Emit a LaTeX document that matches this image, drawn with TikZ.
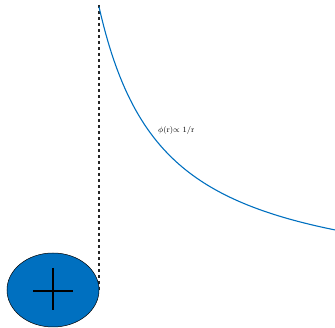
\documentclass[tikz,border=0pt]{standalone}
\usepackage{tikz}
\usetikzlibrary{arrows.meta, positioning, shapes.geometric, calc, backgrounds}
\usepackage{amsmath}
\definecolor{field}{RGB}{0, 112, 192}

\begin{document}
\begin{tikzpicture}[
    x=1pt, y=1pt,
    charge/.style={ellipse, draw=black, fill=field, minimum width=92pt, minimum height=74pt, inner sep=0pt, line width=0.5pt},
    cross/.style={line width=1.5pt, black},
    guide/.style={dash pattern=on 3.5pt off 2.5pt, line width=1.2pt, black!85},
    potential/.style={line width=1.1pt, field},
    curvelabel/.style={font=\footnotesize, inner sep=0pt, anchor=west}
  ]
  \useasboundingbox (0,0) rectangle (335,328);

  % Nodes
  \coordinate (top) at (99,323);
  \node[charge] (q) at (53,38) {};
  \draw[cross] (q.center) +(-20,-1) -- +(20,-1);
  \draw[cross] (q.center) +(0,22) -- +(0,-20);
  \begin{scope}[on background layer]
    \draw[guide] (top) -- (top |- q.east);
  \end{scope}

  % Potential
  \draw[potential] plot[domain=99:335, samples=80, smooth] (\x, {37.4 + 182.01/((\x-34.83)*0.01)});
  \node[curvelabel] (phi) at (158,197) {$\phi$(r)$\propto$ 1/r};

\end{tikzpicture}
\end{document}
